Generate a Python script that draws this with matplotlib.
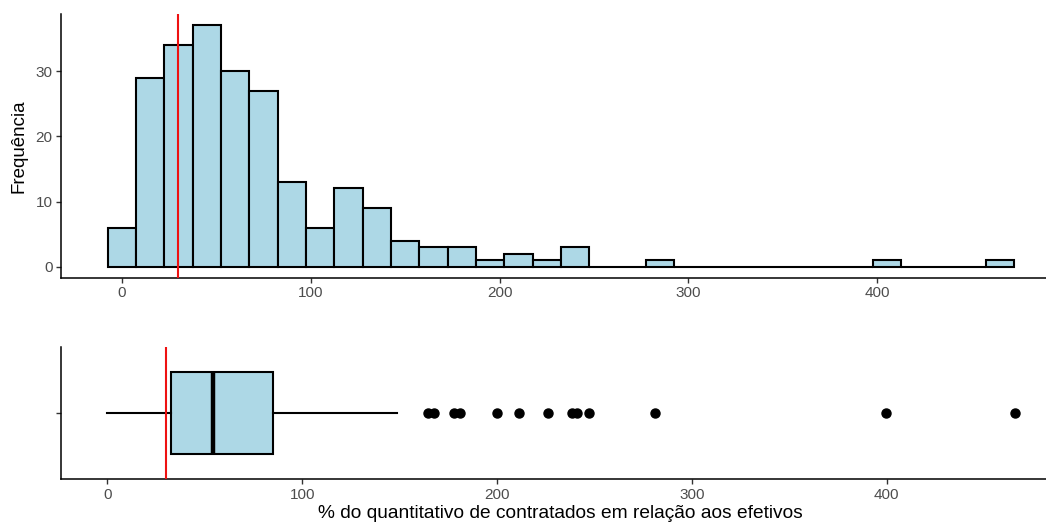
import numpy as np
import matplotlib
matplotlib.use("Agg")
import matplotlib.pyplot as plt

plt.rcParams['font.family'] = ['Liberation Sans', 'DejaVu Sans']

# ---- data ----
bin_centers = [0, 15, 30, 45, 60, 75, 90, 105, 120, 135, 150, 165, 180, 195, 210, 225,
               240, 255, 270, 285, 300, 315, 330, 345, 360, 375, 390, 405, 420, 435, 450, 465]
counts = [6, 29, 34, 37, 30, 27, 13, 6, 12, 9, 4, 3, 3, 1, 2, 1,
          3, 0, 0, 1, 0, 0, 0, 0, 0, 0, 0, 1, 0, 0, 0, 1]
bin_width = 15
ref_value = 30

box_q1 = 32.7
box_median = 54.1
box_q3 = 85.2
whisker_low = 0.0
whisker_high = 148.5
outliers = [164.7, 167.8, 177.9, 181.0, 200.2, 211.3, 226.0, 238.3, 240.9, 247.1,
            280.9, 399.6, 465.8]

x_ticks = [0, 100, 200, 300, 400]
y_ticks = [0, 10, 20, 30]
ylabel_top = "Frequência"
xlabel_bottom = "% do quantitativo de contratados em relação aos efetivos"

fill = "#ADD8E6"
tick_col = "#4D4D4D"

W, H = 1046, 526
fig = plt.figure(figsize=(W / 100, H / 100), dpi=100)

def frac(left, top, right, bottom):
    return [left / W, 1 - bottom / H, (right - left) / W, (bottom - top) / H]

ax1 = fig.add_axes(frac(61.3, 14, 1046, 277.7))
ax2 = fig.add_axes(frac(61.3, 346.7, 1046, 479.3))

# ---- histogram ----
ax1.bar(bin_centers, counts, width=bin_width, color=fill, edgecolor="black",
        linewidth=1.5, zorder=2)
ax1.axvline(ref_value, color="#EE1111", linewidth=1.5, zorder=3)
ax1.set_xlim((61.3 - 121.7) / 1.889, (1046 - 121.7) / 1.889)
ax1.set_ylim(-(277.7 - 266.7) / 6.52, (266.7 - 14) / 6.52)
ax1.set_xticks(x_ticks)
ax1.set_yticks(y_ticks)
ax1.set_ylabel(ylabel_top, fontsize=13.5, color="black", labelpad=6)

# ---- boxplot ----
stats = [dict(med=box_median, q1=box_q1, q3=box_q3, whislo=whisker_low,
              whishi=whisker_high, fliers=outliers)]
ax2.bxp(stats, positions=[1], widths=0.75, orientation='horizontal', patch_artist=True,
        showcaps=False,
        boxprops=dict(facecolor=fill, edgecolor="black", linewidth=1.5),
        whiskerprops=dict(color="black", linewidth=1.5),
        medianprops=dict(color="black", linewidth=3.2),
        flierprops=dict(marker="o", markerfacecolor="black", markeredgecolor="black",
                        markersize=6.5, linestyle="none"))
ax2.axvline(ref_value, color="#EE1111", linewidth=1.5, zorder=3)
ax2.set_xlim((61.3 - 107.3) / 1.9485, (1046 - 107.3) / 1.9485)
ax2.set_ylim(0.4, 1.6)
ax2.set_xticks(x_ticks)
ax2.set_yticks([1])
ax2.set_yticklabels([""])
ax2.set_xlabel(xlabel_bottom, fontsize=13.8, color="black")
ax2.xaxis.set_label_coords((560.5 - 61.3) / (1046 - 61.3), -0.195)

for ax in (ax1, ax2):
    for s in ("top", "right"):
        ax.spines[s].set_visible(False)
    for s in ("left", "bottom"):
        ax.spines[s].set_linewidth(1.1)
        ax.spines[s].set_color("black")
    ax.tick_params(axis="both", length=3.8, width=1.0, color="#333333",
                   labelcolor=tick_col, labelsize=11, pad=2.5)
    ax.set_facecolor("white")

fig.savefig("out.png", dpi=100, facecolor="white")
